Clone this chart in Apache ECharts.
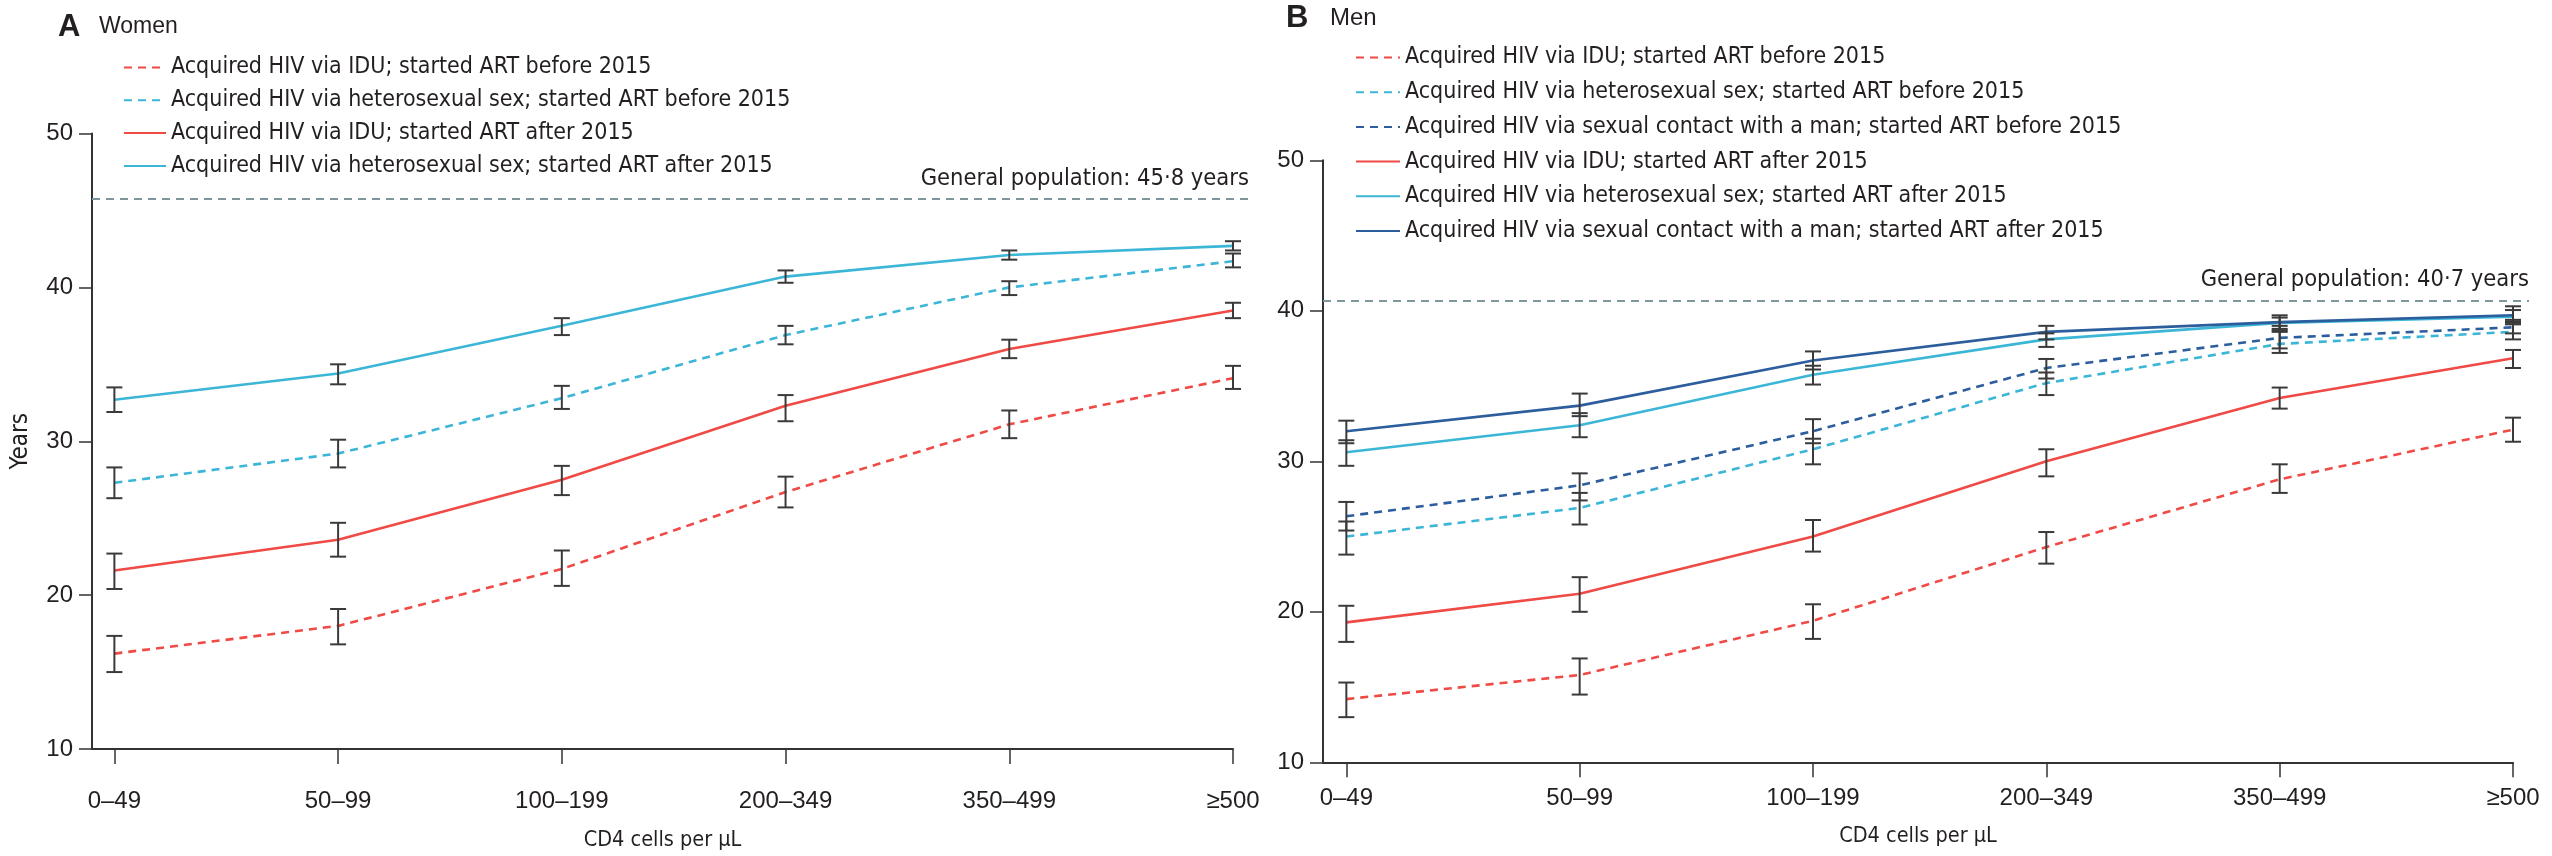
<!DOCTYPE html>
<html>
<head>
<meta charset="utf-8">
<script src="https://cdn.jsdelivr.net/npm/echarts@6.0.0/dist/echarts.min.js"></script>
<style>
  html, body { margin: 0; padding: 0; background: #fff; }
  #chart { width: 2552px; height: 856px; }
</style>
</head>
<body>
<div id="chart"></div>
<script>
// categories and tick labels
const cd4Cats = ['0–49', '50–99', '100–199', '200–349', '350–499', '≥500']
const yTicks = [10, 20, 30, 40, 50]

// general population
const genPopWomen = 45.8
const genPopMen = 40.7

// A — women
const wIduBefore = [16.2, 18.0, 21.7, 26.7, 31.1, 34.1]
const wIduBeforeLo = [15.0, 16.8, 20.6, 25.7, 30.2, 33.4]
const wIduBeforeHi = [17.35, 19.1, 22.9, 27.7, 32.0, 34.9]
const wHetBefore = [27.3, 29.2, 32.8, 36.9, 40.0, 41.7]
const wHetBeforeLo = [26.3, 28.3, 32.1, 36.3, 39.5, 41.3]
const wHetBeforeHi = [28.3, 30.1, 33.6, 37.5, 40.4, 42.2]
const wIduAfter = [21.6, 23.6, 27.5, 32.3, 36.0, 38.5]
const wIduAfterLo = [20.4, 22.5, 26.5, 31.3, 35.4, 38.0]
const wIduAfterHi = [22.7, 24.7, 28.4, 33.0, 36.6, 39.0]
const wHetAfter = [32.7, 34.4, 37.5, 40.7, 42.1, 42.7]
const wHetAfterLo = [31.9, 33.7, 36.9, 40.3, 41.8, 42.4]
const wHetAfterHi = [33.5, 35.0, 38.0, 41.1, 42.4, 43.0]

// B — men
const mIduBefore = [14.2, 15.8, 19.4, 24.3, 28.8, 32.1]
const mIduBeforeLo = [13.0, 14.5, 18.2, 23.2, 27.9, 31.3]
const mIduBeforeHi = [15.3, 16.9, 20.5, 25.3, 29.8, 32.9]
const mHetBefore = [25.0, 26.9, 30.8, 35.2, 37.8, 38.6]
const mHetBeforeLo = [23.8, 25.8, 29.8, 34.4, 37.2, 38.1]
const mHetBeforeHi = [26.0, 27.9, 31.5, 35.9, 38.6, 39.1]
const mMsmBefore = [26.35, 28.4, 32.0, 36.2, 38.2, 38.9]
const mMsmBeforeLo = [25.4, 27.4, 31.2, 35.5, 37.5, 38.5]
const mMsmBeforeHi = [27.3, 29.2, 32.8, 36.8, 39.0, 39.4]
const mIduAfter = [19.3, 21.2, 25.0, 30.0, 34.2, 36.85]
const mIduAfterLo = [18.0, 20.0, 24.0, 29.0, 33.5, 36.2]
const mIduAfterHi = [20.4, 22.3, 26.1, 30.8, 34.9, 37.4]
const mHetAfter = [30.6, 32.4, 35.75, 38.1, 39.2, 39.6]
const mHetAfterLo = [29.7, 31.6, 35.1, 37.6, 38.7, 39.2]
const mHetAfterHi = [31.4, 33.2, 36.35, 38.5, 39.55, 40.05]
const mMsmAfter = [32.0, 33.7, 36.7, 38.6, 39.25, 39.7]
const mMsmAfterLo = [31.2, 33.0, 36.1, 38.1, 38.8, 39.3]
const mMsmAfterHi = [32.7, 34.5, 37.3, 39.0, 39.7, 40.3]

const N_IDU_B = 'Acquired HIV via IDU; started ART before 2015'
const N_HET_B = 'Acquired HIV via heterosexual sex; started ART before 2015'
const N_MSM_B = 'Acquired HIV via sexual contact with a man; started ART before 2015'
const N_IDU_A = 'Acquired HIV via IDU; started ART after 2015'
const N_HET_A = 'Acquired HIV via heterosexual sex; started ART after 2015'
const N_MSM_A = 'Acquired HIV via sexual contact with a man; started ART after 2015'

const RED = '#ef4a45'
const CYAN = '#3cb6d7'
const NAVY = '#2c5d9d'
const INK = '#231f20'
const SANS = "'Liberation Sans', Arial, sans-serif"
const NARROW = "'DejaVu Sans Condensed', 'Liberation Sans', sans-serif"
const catIdx = cd4Cats.map((c, i) => i)

function lineSeries (name, values, color, dashed, axis) {
  return {
    name: name,
    type: 'line',
    xAxisIndex: axis,
    yAxisIndex: axis,
    data: values.map((v, i) => [i, v]),
    symbol: 'none',
    silent: true,
    z: 3,
    lineStyle: { color: color, width: 2.6, type: dashed ? [8, 6] : 'solid' },
    itemStyle: { color: color }
  }
}

function errorBar (params, api) {
  const x = api.value(0)
  const lo = api.coord([x, api.value(1)])
  const hi = api.coord([x, api.value(2)])
  const half = 8
  const style = { stroke: '#3a3a3a', lineWidth: 2 }
  return {
    type: 'group',
    children: [
      { type: 'line', shape: { x1: lo[0], y1: lo[1], x2: hi[0], y2: hi[1] }, style: style },
      { type: 'line', shape: { x1: lo[0] - half, y1: lo[1], x2: lo[0] + half, y2: lo[1] }, style: style },
      { type: 'line', shape: { x1: hi[0] - half, y1: hi[1], x2: hi[0] + half, y2: hi[1] }, style: style }
    ]
  }
}

function barSeries (lo, hi, axis) {
  return {
    type: 'custom',
    xAxisIndex: axis,
    yAxisIndex: axis,
    silent: true,
    z: 4,
    renderItem: errorBar,
    data: lo.map((v, i) => [i, v, hi[i]])
  }
}

function genPopSeries (value, axis) {
  return {
    type: 'line',
    xAxisIndex: axis,
    yAxisIndex: axis,
    data: [],
    silent: true,
    markLine: {
      silent: true,
      symbol: 'none',
      lineStyle: { color: '#7d959b', width: 2, type: [8, 6] },
      label: {
        position: 'insideEndTop',
        distance: [0, 8],
        formatter: 'General population: ' + String(value).replace('.', '·') + ' years',
        fontFamily: NARROW,
        fontSize: 23.5,
        color: INK
      },
      data: [{ yAxis: value }]
    }
  }
}

function xAxisMain (grid, margin, nameGap) {
  return {
    gridIndex: grid,
    type: 'value',
    min: -0.1,
    max: 5,
    name: 'CD4 cells per µL',
    nameLocation: 'middle',
    nameGap: nameGap,
    nameTextStyle: { fontFamily: NARROW, fontSize: 21.5, color: INK },
    axisLine: { lineStyle: { color: '#333', width: 2 } },
    axisTick: { customValues: catIdx, length: 15, lineStyle: { color: '#333', width: 1.5 } },
    axisLabel: {
      customValues: catIdx,
      formatter: v => cd4Cats[Math.round(v)],
      margin: margin,
      fontFamily: SANS,
      fontSize: 24,
      color: INK
    },
    splitLine: { show: false }
  }
}

function yAxisMain (grid, name) {
  return {
    gridIndex: grid,
    type: 'value',
    min: yTicks[0],
    max: yTicks[yTicks.length - 1],
    interval: 10,
    name: name,
    nameLocation: 'middle',
    nameGap: 59,
    nameRotate: 90,
    nameTextStyle: { fontFamily: NARROW, fontSize: 24, color: INK },
    axisLine: { show: true, onZero: false, lineStyle: { color: '#333', width: 2 } },
    axisTick: { show: true, length: 13, lineStyle: { color: '#333', width: 1.5 } },
    axisLabel: { margin: 19, fontFamily: SANS, fontSize: 24, color: INK },
    splitLine: { show: false }
  }
}

function hiddenAxis (grid, min, max) {
  return { gridIndex: grid, type: 'value', min: min, max: max, show: false }
}

const legendText = { fontFamily: NARROW, fontSize: 23, color: INK, lineHeight: 25 }

const option = {
  backgroundColor: '#fff',
  animation: false,
  title: [
    {
      text: '{a|A}{b|Women}',
      left: 53,
      top: 5,
      textStyle: {
        rich: {
          a: { fontFamily: SANS, fontSize: 31, fontWeight: 'bold', color: INK, width: 41, lineHeight: 34 },
          b: { fontFamily: SANS, fontSize: 23, fontWeight: 'normal', color: INK, lineHeight: 34 }
        }
      }
    },
    {
      text: '{a|B}{b|Men}',
      left: 1281,
      top: -4,
      textStyle: {
        rich: {
          a: { fontFamily: SANS, fontSize: 31, fontWeight: 'bold', color: INK, width: 44, lineHeight: 34 },
          b: { fontFamily: SANS, fontSize: 24, fontWeight: 'normal', color: INK, lineHeight: 34 }
        }
      }
    }
  ],
  legend: [
    {
      orient: 'vertical',
      left: 118,
      top: 50,
      itemWidth: 42,
      itemHeight: 14,
      itemGap: 7.8,
      selectedMode: false,
      itemStyle: { opacity: 0 },
      textStyle: legendText,
      data: [N_IDU_B, N_HET_B, N_IDU_A, N_HET_A]
    },
    {
      orient: 'vertical',
      left: 1350,
      top: 40,
      itemWidth: 44,
      itemHeight: 14,
      itemGap: 9.7,
      selectedMode: false,
      itemStyle: { opacity: 0 },
      textStyle: legendText,
      data: [N_IDU_B, N_HET_B, N_MSM_B, N_IDU_A, N_HET_A, N_MSM_A]
    }
  ],
  grid: [
    { left: 92, top: 133.5, width: 1141, height: 622 },
    { left: 1323, top: 160.3, width: 1190, height: 602 },
    { left: 92, top: 133.5, width: 1157, height: 622 },
    { left: 1323, top: 160.3, width: 1206, height: 602 }
  ],
  xAxis: [
    xAxisMain(0, 40, 80),
    xAxisMain(1, 24, 63),
    hiddenAxis(2, 0, 1),
    hiddenAxis(3, 0, 1)
  ],
  yAxis: [
    yAxisMain(0, 'Years'),
    yAxisMain(1, ''),
    hiddenAxis(2, yTicks[0], yTicks[yTicks.length - 1]),
    hiddenAxis(3, yTicks[0], yTicks[yTicks.length - 1])
  ],
  series: [
    genPopSeries(genPopWomen, 2),
    genPopSeries(genPopMen, 3),

    lineSeries(N_IDU_B, wIduBefore, RED, true, 0),
    lineSeries(N_HET_B, wHetBefore, CYAN, true, 0),
    lineSeries(N_IDU_A, wIduAfter, RED, false, 0),
    lineSeries(N_HET_A, wHetAfter, CYAN, false, 0),
    barSeries(wIduBeforeLo, wIduBeforeHi, 0),
    barSeries(wHetBeforeLo, wHetBeforeHi, 0),
    barSeries(wIduAfterLo, wIduAfterHi, 0),
    barSeries(wHetAfterLo, wHetAfterHi, 0),

    lineSeries(N_IDU_B, mIduBefore, RED, true, 1),
    lineSeries(N_HET_B, mHetBefore, CYAN, true, 1),
    lineSeries(N_MSM_B, mMsmBefore, NAVY, true, 1),
    lineSeries(N_IDU_A, mIduAfter, RED, false, 1),
    lineSeries(N_HET_A, mHetAfter, CYAN, false, 1),
    lineSeries(N_MSM_A, mMsmAfter, NAVY, false, 1),
    barSeries(mIduBeforeLo, mIduBeforeHi, 1),
    barSeries(mHetBeforeLo, mHetBeforeHi, 1),
    barSeries(mMsmBeforeLo, mMsmBeforeHi, 1),
    barSeries(mIduAfterLo, mIduAfterHi, 1),
    barSeries(mHetAfterLo, mHetAfterHi, 1),
    barSeries(mMsmAfterLo, mMsmAfterHi, 1)
  ]
}

const myChart = echarts.init(document.getElementById('chart'))
myChart.setOption(option)
</script>
</body>
</html>
